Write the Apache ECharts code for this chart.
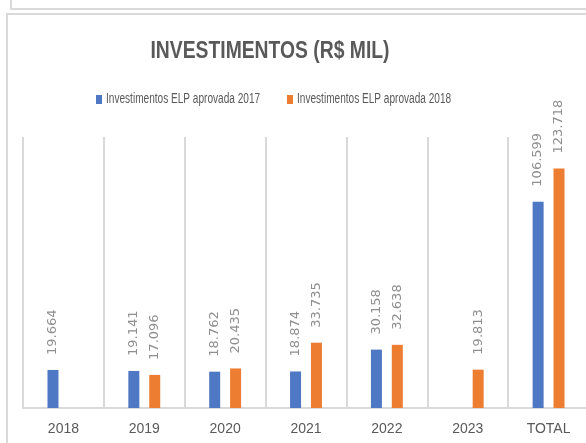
<!DOCTYPE html>
<html>
<head>
<meta charset="utf-8">
<script src="https://cdn.jsdelivr.net/npm/echarts@6/dist/echarts.min.js"></script>
<style>
  html, body { margin: 0; padding: 0; background: #fff; }
  #chart { width: 586px; height: 443px; }
</style>
</head>
<body>
<div id="chart"></div>
<script>
// categorias e valores (R$ mil)
var categories = ["2018", "2019", "2020", "2021", "2022", "2023", "TOTAL"];
var seriesNames = ["Investimentos ELP aprovada 2017", "Investimentos ELP aprovada 2018"];
var seriesColors = ["#4e78c3", "#ed7d31"];
var values2017 = [19.664, 19.141, 18.762, 18.874, 30.158, null, 106.599];
var values2018 = [null, 17.096, 20.435, 33.735, 32.638, 19.813, 123.718];
var titleText = "INVESTIMENTOS (R$ MIL)";

var chart = echarts.init(document.getElementById("chart"), null, { renderer: "canvas" });

var barLabel = {
  show: true,
  position: "top",
  rotate: 90,
  align: "left",
  verticalAlign: "middle",
  distance: 15,
  color: "#8f8f8f",
  fontFamily: "DejaVu Sans",
  fontSize: 13,
  formatter: function (p) {
    return p.value == null ? "" : p.value.toFixed(3);
  },
};

// legenda desenhada à mão (fonte estreita tipo Calibri)
var legendX = [96, 287];
var legendItems = [];
seriesNames.forEach(function (name, i) {
  legendItems.push({
    type: "rect",
    shape: { x: legendX[i], y: 95, width: 6, height: 9 },
    style: { fill: seriesColors[i] },
  });
  legendItems.push({
    type: "text",
    x: legendX[i] + 10,
    y: 99.5,
    scaleX: 0.72,
    style: {
      text: name,
      fill: "#595959",
      font: "14px 'Liberation Sans', sans-serif",
      textAlign: "left",
      textVerticalAlign: "middle",
    },
  });
});

var option = {
  animation: false,
  backgroundColor: "#fff",
  graphic: [
    { type: "polyline", shape: { points: [[11, 0], [11, 9], [586, 9]] }, style: { stroke: "#d9d9d9", lineWidth: 2, fill: null } },
    { type: "polyline", shape: { points: [[7, 443], [7, 14], [586, 14]] }, style: { stroke: "#d9d9d9", lineWidth: 2, fill: null } },
    {
      type: "text",
      x: 270,
      y: 52,
      scaleX: 0.84,
      style: {
        text: titleText,
        fill: "#595959",
        font: "bold 23px 'Liberation Sans', sans-serif",
        textAlign: "center",
        textVerticalAlign: "middle",
      },
    },
  ].concat(legendItems),
  grid: {
    left: 23,
    right: -3,
    top: 137,
    bottom: 35,
    containLabel: false,
    outerBoundsMode: "none",
  },
  xAxis: {
    type: "category",
    data: categories,
    axisTick: { show: false },
    axisLine: { lineStyle: { color: "#d9d9d9", width: 2 } },
    splitLine: { show: true, lineStyle: { color: "#d9d9d9", width: 2 } },
    axisLabel: {
      color: "#595959",
      fontFamily: "Liberation Sans",
      fontSize: 14,
      margin: 14,
    },
  },
  yAxis: {
    type: "value",
    min: 0,
    max: 140,
    show: false,
    splitLine: { show: false },
  },
  series: [
    {
      name: seriesNames[0],
      type: "bar",
      data: values2017,
      barWidth: 11,
      barGap: "90%",
      itemStyle: { color: seriesColors[0] },
      label: barLabel,
    },
    {
      name: seriesNames[1],
      type: "bar",
      data: values2018,
      barWidth: 11,
      itemStyle: { color: seriesColors[1] },
      label: barLabel,
    },
  ],
};

chart.setOption(option);
</script>
</body>
</html>
